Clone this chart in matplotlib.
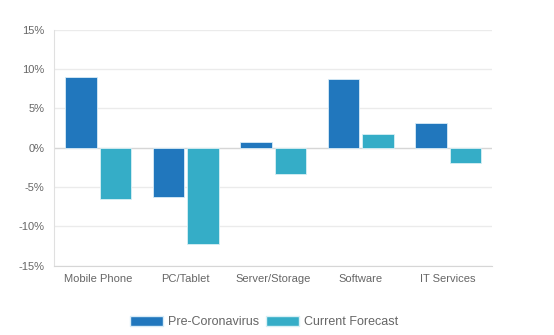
import matplotlib
matplotlib.use("Agg")
import matplotlib.pyplot as plt
import numpy as np
from matplotlib.patches import Patch

categories = ["Mobile Phone", "PC/Tablet", "Server/Storage", "Software", "IT Services"]
pre_coronavirus = [9.0, -6.3, 0.7, 8.7, 3.2]
current_forecast = [-6.5, -12.2, -3.3, 1.7, -2.0]
y_ticks = [-15, -10, -5, 0, 5, 10, 15]

PRE_COLOR = "#2177bd"
CUR_COLOR = "#35adc7"
TEXT_COLOR = "#666666"

plt.rcParams["font.family"] = ["Liberation Sans", "DejaVu Sans"]

fig = plt.figure(figsize=(5.54, 3.35), dpi=100)
ax = fig.add_axes([0.098, 0.207, 0.79, 0.704])

x = np.arange(len(categories))
width = 0.36
offset = 0.197
ax.bar(x - offset, pre_coronavirus, width, color=PRE_COLOR, edgecolor="#d8ecf7",
       linewidth=0.6, zorder=3)
ax.bar(x + offset, current_forecast, width, color=CUR_COLOR, edgecolor="#d8f0f5",
       linewidth=0.6, zorder=3)

ax.set_xlim(-0.5, len(categories) - 0.5)
ax.set_ylim(-15, 15)
ax.set_yticks(y_ticks)
ax.set_yticklabels([f"{v}%" for v in y_ticks])
ax.set_xticks(x)
ax.set_xticklabels(categories)

for v in y_ticks:
    ax.axhline(v, color="#d6d6d6" if v == 0 else "#ebebeb", linewidth=1.0, zorder=1)

for side in ("top", "right"):
    ax.spines[side].set_visible(False)
ax.spines["left"].set_color("#e0e0e0")
ax.spines["bottom"].set_color("#d6d6d6")
ax.tick_params(axis="both", length=0, colors=TEXT_COLOR, labelsize=8)
ax.tick_params(axis="x", pad=6)
ax.tick_params(axis="y", pad=7)

handles = [Patch(facecolor=PRE_COLOR, edgecolor="#d8ecf7", label="Pre-Coronavirus"),
           Patch(facecolor=CUR_COLOR, edgecolor="#d8f0f5", label="Current Forecast")]
fig.legend(handles=handles, loc="center", bbox_to_anchor=(0.477, 0.038), ncol=2,
           frameon=False, fontsize=9, labelcolor=TEXT_COLOR, handlelength=2.6,
           handleheight=0.8, handletextpad=0.45, columnspacing=0.55)

fig.savefig("out.png", dpi=100)
